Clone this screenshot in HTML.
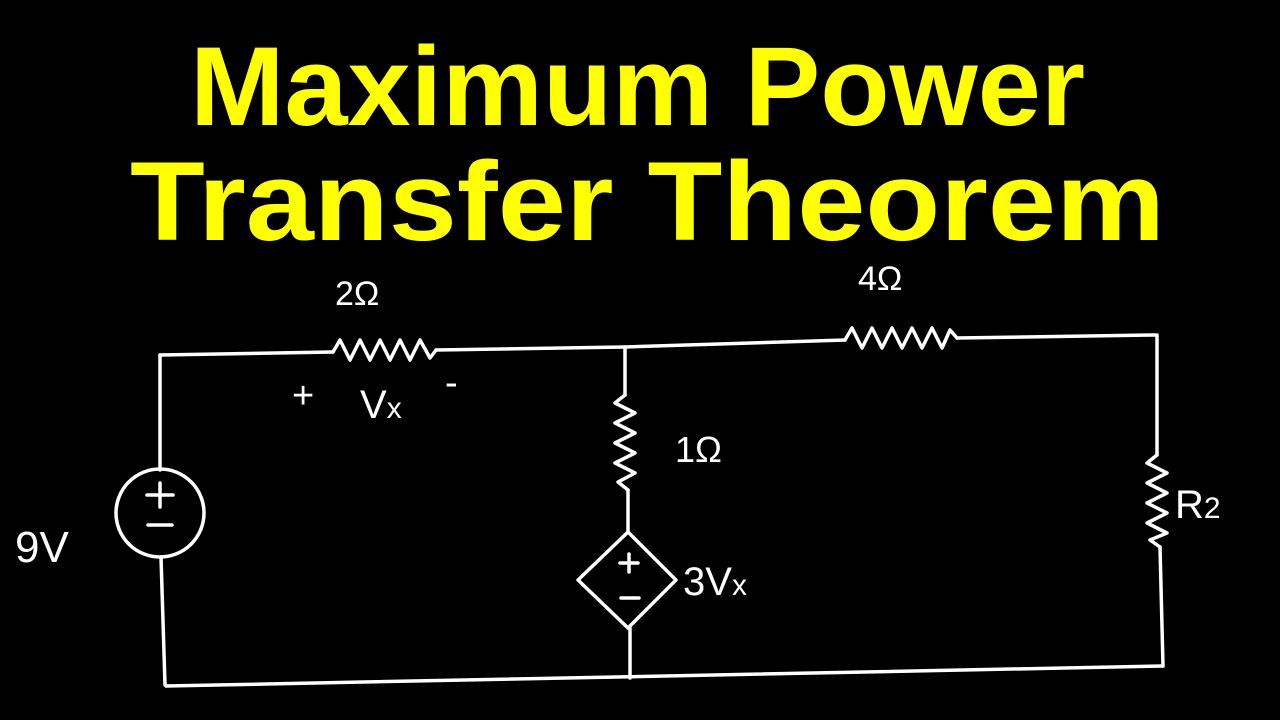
<!DOCTYPE html>
<html><head><style>
html,body{margin:0;padding:0;background:#000;}
svg{display:block}
</style></head><body>
<svg width="1280" height="720" viewBox="0 0 1280 720" xmlns="http://www.w3.org/2000/svg">
<rect width="1280" height="720" fill="#000"/>
<g font-family="Liberation Sans, sans-serif" font-weight="bold" fill="#ffff00">
<text x="190" y="125" font-size="112" textLength="895" lengthAdjust="spacingAndGlyphs">Maximum Power</text>
<text x="130" y="240" font-size="112" textLength="1035" lengthAdjust="spacingAndGlyphs">Transfer Theorem</text>
</g>
<g stroke="#fff" stroke-width="3.5" fill="none" stroke-linecap="round" stroke-linejoin="round">
<!-- top wire -->
<polyline points="160,355 333,352"/>
<polyline points="333,352 340,340 350,360 360,340 370,360 380,340 390,360 400,340 410,360 420,340 430,358 436,350"/>
<polyline points="436,350 625,347 845,340"/>
<polyline points="845,340 852,328 862,348 872,328 882,348 892,328 902,348 912,328 922,348 932,328 942,348 950,330 957,338"/>
<polyline points="957,338 1155,335"/>
<!-- left -->
<line x1="160" y1="355" x2="160" y2="470"/>
<circle cx="160" cy="513" r="44"/>
<line x1="161" y1="557" x2="165" y2="685"/>
<line x1="147" y1="495" x2="173" y2="495"/>
<line x1="160" y1="483" x2="160" y2="507"/>
<line x1="148" y1="525" x2="172" y2="525"/>
<!-- bottom -->
<line x1="166" y1="686" x2="1163" y2="666"/>
<!-- middle -->
<line x1="625" y1="347" x2="625" y2="395"/>
<polyline points="625,395 615,403 635,413 615,423 635,433 615,443 635,453 615,463 635,473 618,482 628,490"/>
<line x1="628" y1="490" x2="628" y2="532"/>
<polygon points="628,532 676,580 628,628 578,580"/>
<line x1="630" y1="628" x2="630" y2="678"/>
<line x1="620" y1="563" x2="638" y2="563"/>
<line x1="629" y1="554" x2="629" y2="572"/>
<line x1="621" y1="598" x2="639" y2="598"/>
<!-- right -->
<line x1="1157" y1="335" x2="1157" y2="455"/>
<polyline points="1157,455 1147,463 1167,473 1147,483 1167,493 1147,503 1167,513 1147,523 1167,533 1150,540 1160,547"/>
<line x1="1160" y1="547" x2="1163" y2="666"/>
</g>
<g fill="#fff" font-family="Liberation Sans, sans-serif">
<text x="335" y="305" font-size="34">2Ω</text>
<text x="858" y="290" font-size="34">4Ω</text>
<text x="292" y="408" font-size="38">+</text>
<text x="360" y="418" font-size="40">V<tspan font-size="30">x</tspan></text>
<text x="445" y="395" font-size="38">-</text>
<text x="675" y="462" font-size="36">1Ω</text>
<text x="15" y="562" font-size="44">9V</text>
<text x="1175" y="518" font-size="40">R<tspan font-size="30">2</tspan></text>
<text x="683" y="595" font-size="40">3V<tspan font-size="30">x</tspan></text>
</g>
</svg>
</body></html>
